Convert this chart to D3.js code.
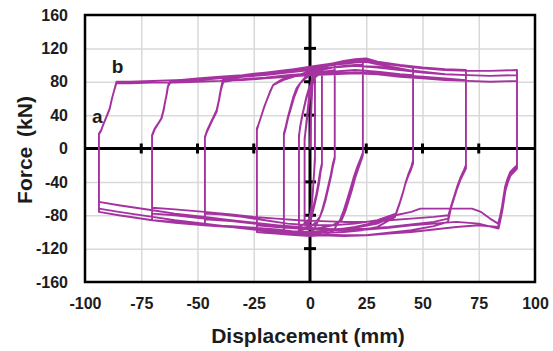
<!DOCTYPE html>
<html><head><meta charset="utf-8">
<script src="https://cdn.jsdelivr.net/npm/d3@7"></script>
<style>body{margin:0;background:#fff}svg{display:block}</style>
</head><body>
<svg id="c" width="553" height="351"></svg>
<script>
const xTicks = [-100,-75,-50,-25,0,25,50,75,100];
const yTicks = [-160,-120,-80,-40,0,40,80,120,160];
const xTitle = "Displacement (mm)";
const yTitle = "Force (kN)";
const pointLabels = [{t:"a", x:-94.5, y:31}, {t:"b", x:-85.5, y:91}];

// hysteresis history [displacement mm, force kN], by amplitude level
const amp2 = [[0,0],[0.3,30],[0.7,55],[1.1,75],[1.6,86],[2.2,90],[2.2,40],[2.2,-10],[1.8,-30],[1.2,-55],[0.6,-72],[0,-82],[-1,-88],[-2.4,-90],[-2.4,-40],[-2.4,10],[-1.9,24],[-1.2,42],[-0.5,60],[0.3,74],[0.9,84],[2.2,92],[2.2,30],[2.2,-14],[1.7,-34],[1.1,-58],[0.5,-74],[-0.4,-84],[-1.4,-90],[-2.4,-92],[-2.4,-60]];
const amp5 = [[-2.4,-60],[-2.4,12],[-1.9,22],[-1.2,38],[-0.4,55],[0.4,70],[1.0,80],[2.0,86],[3.2,90],[4.2,92],[5.3,94],
 [5.3,50],[5.3,-20],[4.7,-28],[4.0,-42],[3.0,-56],[2.0,-68],[1.0,-79],[0,-88],[-1.5,-94],[-3,-97],[-4.9,-99],
 [-4.9,-40],[-4.9,14],[-4.4,26],[-3.6,38],[-2.6,50],[-1.6,62],[-0.5,72],[0.9,80],[2.2,85],[3.6,88],[5.3,90],
 [5.3,40],[5.3,-18],[4.6,-26],[3.8,-40],[2.8,-55],[1.8,-66],[0.9,-78],[-0.5,-85],[-2,-90],[-3.5,-92],[-4.9,-93]];
const amp11 = [[-4.9,-60],[-4.9,16],[-4.2,28],[-3.2,42],[-2.0,56],[-0.8,68],[0.5,78],[2,86],[4,92],[6,96],[8,99],[11,101],
 [11,50],[11,-10],[10.2,-18],[9.2,-32],[8,-46],[6.8,-60],[5.6,-72],[4.4,-82],[2,-96],[0,-102],[-3,-104],[-6,-102],[-9,-100],[-11.6,-98],
 [-11.6,-50],[-11.6,18],[-10.8,26],[-9.8,38],[-8.6,50],[-7.4,62],[-6,72],[-4.4,78],[-2,84],[0,88],[3,90],[6,92],[8.5,93],[11,94],
 [11,40],[11,-12],[10.3,-20],[9.3,-34],[8.1,-48],[6.9,-62],[5.6,-74],[4.4,-82],[2,-90],[0,-94],[-3,-96],[-6,-95],[-9,-94],[-11.6,-93]];
const amp23 = [[-11.6,-60],[-11.6,16],[-10.8,24],[-9.8,36],[-8.5,48],[-7,62],[-5.5,72],[-4.4,78],[-2,86],[0,92],[4,96],[8,100],[12,103],[16,105],[20,106],[23.5,107],
 [23.5,60],[23.5,-5],[22.5,-12],[21,-22],[19.5,-34],[18,-48],[16.4,-62],[15,-74],[13.3,-86],[10,-100],[5,-104],[0,-105],[-5,-104],[-10,-103],[-15,-102],[-20,-101],[-23.6,-100],
 [-23.6,-40],[-23.6,24],[-23,28],[-22,36],[-20.8,46],[-19.5,56],[-18,66],[-16.4,76],[-13,82],[-10,85],[-5,88],[0,91],[5,94],[10,97],[15,99],[20,100],[23.5,100],
 [23.5,50],[23.5,-8],[22.8,-14],[21.5,-24],[20,-36],[18.6,-50],[17,-64],[15.6,-76],[14,-86],[10,-92],[5,-95],[0,-97],[-5,-96],[-10,-95],[-15,-94],[-20,-93],[-23.6,-92]];
const amp46 = [[-23.6,-60],[-23.6,22],[-23,28],[-22,36],[-20.6,48],[-19.2,58],[-17.8,68],[-16.4,76],[-12,82],[-6,87],[0,93],[5,98],[10,102],[15,105],[20,107],[25,108],[30,104],[35,101],[40,99],[45.8,97],
 [45.8,50],[45.8,-18],[44.8,-26],[43.5,-34],[42.2,-44],[41,-56],[39.6,-68],[37.8,-82],[30,-94],[23,-98],[15,-100],[8,-101],[0,-100],[-8,-99],[-15,-97],[-25,-95],[-35,-93],[-46.7,-92],
 [-46.7,-50],[-46.7,14],[-45.8,20],[-44.4,28],[-43,36],[-41.5,44],[-40.6,56],[-40,66],[-38.8,82],[-30,86],[-20,89],[-10,92],[0,96],[10,100],[20,103],[25,104],[30,101],[40,96],[45.8,93],
 [45.8,40],[45.8,-16],[44.9,-24],[43.6,-32],[42.4,-42],[41.2,-54],[39.8,-66],[38,-80],[30,-90],[20,-95],[10,-97],[0,-96],[-10,-94],[-20,-91],[-30,-88],[-40,-86],[-46.7,-85],
 [-46.7,-40],[-46.7,13],[-45.6,22],[-44.2,30],[-42.8,38],[-41.4,46],[-40.4,58],[-39.6,70],[-38.5,80],[-30,83],[-20,85],[-10,88],[0,90],[10,92],[20,94],[30,92],[40,89],[45.8,88],
 [45.8,30],[45.8,-14],[45,-22],[43.8,-30],[42.6,-40],[41.4,-52],[40,-64],[38.2,-78],[30,-86],[20,-90],[10,-92],[0,-92],[-10,-90],[-20,-86],[-30,-82],[-40,-79],[-46.7,-78]];
const amp70 = [[-46.7,-60],[-46.7,14],[-45.7,22],[-44.3,30],[-42.9,38],[-41.5,46],[-40.5,58],[-39.6,70],[-38.8,82],[-30,87],[-20,90],[-10,94],[0,98],[10,102],[20,106],[25,107],[30,104],[40,100],[50,97],[60,95],[69.3,94],
 [69.3,40],[69.3,-24],[68.2,-30],[66.8,-38],[65.4,-48],[64,-60],[62.6,-72],[61.3,-88],[55,-93],[45,-98],[35,-101],[25,-104],[15,-104],[5,-103],[-5,-101],[-15,-99],[-25,-97],[-35,-94],[-47,-91],[-60,-88],[-70.2,-86],
 [-70.2,-50],[-70.2,16],[-68.9,24],[-67.4,30],[-66,36],[-65,46],[-64.4,56],[-63.6,66],[-63,76],[-62,80],[-50,82],[-40,84],[-30,86],[-20,89],[-10,91],[0,94],[10,97],[20,99],[30,98],[40,95],[50,92],[60,89],[69.3,88],
 [69.3,30],[69.3,-22],[68.3,-28],[66.9,-36],[65.5,-46],[64.1,-58],[62.7,-70],[61.4,-84],[55,-88],[45,-91],[35,-94],[25,-96],[15,-97],[5,-96],[-5,-94],[-15,-92],[-25,-90],[-35,-87],[-47,-84],[-60,-80],[-70.2,-78],
 [-70.2,-40],[-70.2,15],[-69,23],[-67.6,29],[-66.2,35],[-65.2,44],[-64.5,54],[-63.8,64],[-63.2,74],[-62,79],[-50,80],[-40,81],[-30,83],[-20,85],[-10,87],[0,89],[10,90],[20,91],[30,90],[40,88],[50,86],[60,84],[69.3,82],
 [69.3,20],[69.3,-20],[68.4,-26],[67,-34],[65.6,-44],[64.2,-56],[62.8,-68],[61.5,-80],[55,-82],[45,-84],[35,-86],[25,-88],[15,-88],[5,-87],[-5,-86],[-15,-84],[-25,-82],[-35,-79],[-47,-76],[-60,-73],[-70.2,-71]];
const amp93 = [[-70.2,-60],[-70.2,16],[-69,24],[-67.5,30],[-66.1,36],[-65.1,46],[-64.4,56],[-63.6,66],[-63,76],[-62,81],[-50,84],[-40,86],[-30,88],[-20,91],[-10,94],[0,97],[10,101],[20,104],[25,106],[30,103],[40,99],[50,96],[60,94],[70,93],[80,93],[92,94],
 [92,40],[92,-20],[90.5,-24],[89,-28],[87.8,-36],[86.7,-46],[86,-58],[85.3,-70],[84.4,-82],[83.6,-90],[80,-84],[76,-76],[72,-72],[60,-72],[49,-72],[45,-76],[38,-80],[30,-88],[20,-94],[10,-98],[0,-100],[-10,-99],[-20,-97],[-30,-95],[-47,-92],[-60,-89],[-70,-86],[-85,-80],[-93.8,-76],
 [-93.8,-40],[-93.8,18],[-92.8,22],[-92,28],[-90.5,38],[-89,48],[-88,60],[-87,70],[-86,80],[-80,80],[-70,81],[-60,82],[-50,83],[-40,84],[-30,86],[-20,88],[-10,91],[0,94],[10,97],[20,99],[30,97],[40,94],[50,91],[60,89],[70,88],[80,87],[92,88],
 [92,30],[92,-22],[90.6,-26],[89.1,-30],[87.9,-38],[86.8,-48],[86.1,-60],[85.4,-72],[84.5,-84],[83.6,-94],[75,-92],[65,-94],[55,-97],[45,-100],[35,-102],[25,-104],[15,-105],[5,-104],[-5,-102],[-15,-100],[-25,-97],[-35,-94],[-47,-90],[-60,-86],[-70,-82],[-85,-76],[-93.8,-72],
 [-93.8,-30],[-93.8,17],[-92.9,21],[-92.1,27],[-90.6,37],[-89.1,47],[-88.1,59],[-87.1,69],[-86.1,78],[-80,78],[-70,79],[-60,79],[-50,80],[-40,81],[-30,82],[-20,84],[-10,86],[0,88],[10,89],[20,90],[30,89],[40,86],[50,84],[60,82],[70,81],[80,80],[92,81],
 [92,20],[92,-24],[90.7,-28],[89.2,-32],[88,-40],[86.9,-50],[86.2,-62],[85.5,-74],[84.6,-86],[83.8,-96],[75,-90],[65,-88],[55,-90],[45,-92],[35,-95],[25,-97],[15,-98],[5,-97],[-5,-95],[-15,-92],[-25,-89],[-35,-86],[-47,-82],[-60,-78],[-70,-74],[-85,-68],[-93.8,-64],[-93.8,-20]];

const history = [amp2, amp5, amp11, amp23, amp46, amp70, amp93];

const svg = d3.select("#c");
const L = 85, R = 535, T = 15, B = 282;
const x = d3.scaleLinear().domain([-100,100]).range([L,R]);
const y = d3.scaleLinear().domain([-160,160]).range([B,T]);
const font = "'Liberation Sans', Arial, sans-serif";
const ink = "#1c1c1c";

// grid
svg.append("g").attr("transform",`translate(0,${B})`)
  .call(d3.axisBottom(x).tickValues(xTicks.filter(v=>v!==0&&Math.abs(v)<100)).tickSize(-(B-T)).tickFormat(""))
  .call(g=>g.select(".domain").remove())
  .call(g=>g.selectAll("line").attr("stroke","#d9d9d9").attr("stroke-width",1.5));
svg.append("g").attr("transform",`translate(${L},0)`)
  .call(d3.axisLeft(y).tickValues(yTicks.filter(v=>v!==0&&Math.abs(v)<160)).tickSize(-(R-L)).tickFormat(""))
  .call(g=>g.select(".domain").remove())
  .call(g=>g.selectAll("line").attr("stroke","#d9d9d9").attr("stroke-width",1.5));

// zero axes
svg.append("line").attr("x1",L).attr("x2",R).attr("y1",y(0)).attr("y2",y(0)).attr("stroke","#000").attr("stroke-width",3);
svg.append("line").attr("x1",x(0)).attr("x2",x(0)).attr("y1",T).attr("y2",B).attr("stroke","#000").attr("stroke-width",3);
svg.append("g").selectAll("line").data(xTicks.filter(v=>v!==0&&Math.abs(v)<100)).join("line")
  .attr("x1",d=>x(d)).attr("x2",d=>x(d)).attr("y1",y(0)-5).attr("y2",y(0)+5).attr("stroke","#000").attr("stroke-width",3);
svg.append("g").selectAll("line").data(yTicks.filter(v=>v!==0&&Math.abs(v)<160)).join("line")
  .attr("y1",d=>y(d)).attr("y2",d=>y(d)).attr("x1",x(0)-6).attr("x2",x(0)+6).attr("stroke","#000").attr("stroke-width",3);

// data
const line = d3.line().x(d=>x(d[0])).y(d=>y(d[1]));
svg.append("path").datum(history.flat()).attr("d",line)
  .attr("fill","none").attr("stroke","#a5339f").attr("stroke-width",1.9).attr("stroke-linejoin","round");

// frame
svg.append("rect").attr("x",L).attr("y",T).attr("width",R-L).attr("height",B-T)
  .attr("fill","none").attr("stroke","#000").attr("stroke-width",2.5);

// tick labels
svg.append("g").attr("transform",`translate(0,${B})`)
  .call(d3.axisBottom(x).tickValues(xTicks).tickSize(0).tickPadding(16).tickFormat(d=>String(d)))
  .call(g=>g.select(".domain").remove())
  .call(g=>g.selectAll("text").attr("font-family",font).attr("font-weight","bold").attr("font-size",16).attr("fill",ink));
svg.append("g").attr("transform",`translate(${L},0)`)
  .call(d3.axisLeft(y).tickValues(yTicks).tickSize(0).tickPadding(17).tickFormat(d=>String(d)))
  .call(g=>g.select(".domain").remove())
  .call(g=>g.selectAll("text").attr("font-family",font).attr("font-weight","bold").attr("font-size",16).attr("fill",ink));

// titles
svg.append("text").attr("x",308).attr("y",343).attr("text-anchor","middle")
  .attr("font-family",font).attr("font-weight","bold").attr("font-size",21).attr("fill",ink).text(xTitle);
svg.append("text").attr("transform",`translate(32,150) rotate(-90)`).attr("text-anchor","middle")
  .attr("font-family",font).attr("font-weight","bold").attr("font-size",21).attr("word-spacing",4).attr("fill",ink).text(yTitle);

svg.append("g").selectAll("text").data(pointLabels).join("text")
  .attr("x",d=>x(d.x)).attr("y",d=>y(d.y)).attr("text-anchor","middle")
  .attr("font-family",font).attr("font-weight","bold").attr("font-size",19).attr("fill",ink).text(d=>d.t);
</script>
</body></html>
